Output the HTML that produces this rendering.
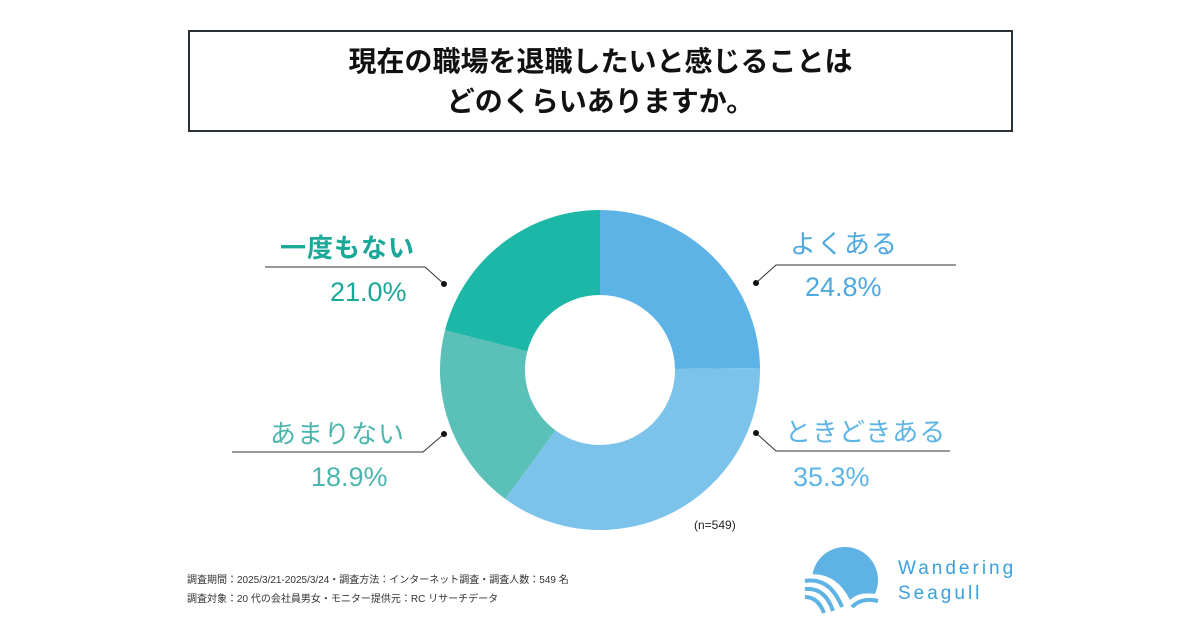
<!DOCTYPE html>
<html><head><meta charset="utf-8"><style>
body{margin:0;width:1200px;height:630px;background:#fff;position:relative;overflow:hidden;font-family:"Liberation Sans","Noto Sans CJK JP",sans-serif}
.t{position:absolute;white-space:nowrap}
</style></head><body>
<div style="position:absolute;left:188px;top:30px;width:821px;height:98px;border:2px solid #2a3238;box-sizing:content-box"></div>
<div class="t" style="left:188px;width:825px;top:42px;text-align:center;font-size:28px;font-weight:bold;line-height:40px;color:#111">現在の職場を退職したいと感じることは<br>どのくらいありますか。</div>
<svg width="1200" height="630" style="position:absolute;left:0;top:0" id="chart"></svg>
<div class="t" style="left:280px;top:228px;font-size:26px;font-weight:bold;color:#1aa898;letter-spacing:1px">一度もない</div>
<div class="t" style="left:330px;top:277px;font-size:27px;color:#1aa898">21.0%</div>
<div class="t" style="left:270px;top:414px;font-size:26px;color:#4bb6ad;letter-spacing:1px">あまりない</div>
<div class="t" style="left:311px;top:462px;font-size:27px;color:#4bb6ad">18.9%</div>
<div class="t" style="left:790px;top:224px;font-size:26px;color:#4ea9e0;letter-spacing:1px">よくある</div>
<div class="t" style="left:805px;top:272px;font-size:27px;color:#4ea9e0">24.8%</div>
<div class="t" style="left:785px;top:412px;font-size:26px;color:#5cb5e6;letter-spacing:1px">ときどきある</div>
<div class="t" style="left:793px;top:462px;font-size:27px;color:#5cb5e6">35.3%</div>
<div class="t" style="left:694px;top:518px;font-size:12px;color:#222">(n=549)</div>
<div class="t" style="left:187px;top:571px;font-size:10px;color:#333">調査期間：2025/3/21-2025/3/24・調査方法：インターネット調査・調査人数：549 名</div>
<div class="t" style="left:187px;top:590px;font-size:10px;color:#333">調査対象：20 代の会社員男女・モニター提供元：RC リサーチデータ</div>
<svg width="90" height="70" style="position:absolute;left:800px;top:545px">
<circle cx="45" cy="35" r="33" fill="#5eb3e4"/>
<path d="M5 30 Q35 25 50 55 Q60 45 80 50 L80 70 L5 70Z" fill="#fff"/>
<path d="M5 36 Q30 32 42 62" stroke="#5eb3e4" stroke-width="4" fill="none"/>
<path d="M5 44 Q25 42 33 66" stroke="#5eb3e4" stroke-width="4" fill="none"/>
<path d="M5 52 Q18 52 24 68" stroke="#5eb3e4" stroke-width="4" fill="none"/>
<path d="M52 62 Q62 52 78 56" stroke="#5eb3e4" stroke-width="4" fill="none"/>
</svg>
<div class="t" style="left:898px;top:556px;font-size:19px;line-height:25px;color:#3aa0dc;letter-spacing:3px">Wandering<br>Seagull</div>
<script>
const categories=['よくある','ときどきある','あまりない','一度もない'];
const values=[24.8,35.3,18.9,21.0];
const colors=['#5db3e6','#7cc3ec','#5bc0b8','#1db7a7'];
const svg=document.getElementById('chart');
const NS='http://www.w3.org/2000/svg';
const cx=600,cy=370,R=160,r=75;
const total=values.reduce((a,b)=>a+b,0);
function pt(a,rad){return [cx+rad*Math.sin(a),cy-rad*Math.cos(a)];}
let acc=0;
values.forEach((v,i)=>{
 const a0=acc/total*2*Math.PI;acc+=v;const a1=acc/total*2*Math.PI;
 const lg=(a1-a0)>Math.PI?1:0;
 const [x0,y0]=pt(a0,R),[x1,y1]=pt(a1,R),[x2,y2]=pt(a1,r),[x3,y3]=pt(a0,r);
 const p=document.createElementNS(NS,'path');
 p.setAttribute('d',`M${x0},${y0}A${R},${R} 0 ${lg} 1 ${x1},${y1}L${x2},${y2}A${r},${r} 0 ${lg} 0 ${x3},${y3}Z`);
 p.setAttribute('fill',colors[i]);
 
 
 svg.appendChild(p);
});
const leaders=[[265,267,425,267,444,284],[232,452,423,452,444,434],[956,265,776,265,756,283],[950,451,776,451,756,433]];
leaders.forEach((l,i)=>{
 const pl=document.createElementNS(NS,'polyline');
 pl.setAttribute('points',`${l[0]},${l[1]} ${l[2]},${l[3]} ${l[4]},${l[5]}`);
 pl.setAttribute('fill','none');pl.setAttribute('stroke','#333');pl.setAttribute('stroke-width','1');
 
 
 svg.appendChild(pl);
 const c=document.createElementNS(NS,'circle');
 c.setAttribute('cx',l[4]);c.setAttribute('cy',l[5]);c.setAttribute('r','3');c.setAttribute('fill','#111');
 
 
 svg.appendChild(c);
});
</script>
</body></html>
